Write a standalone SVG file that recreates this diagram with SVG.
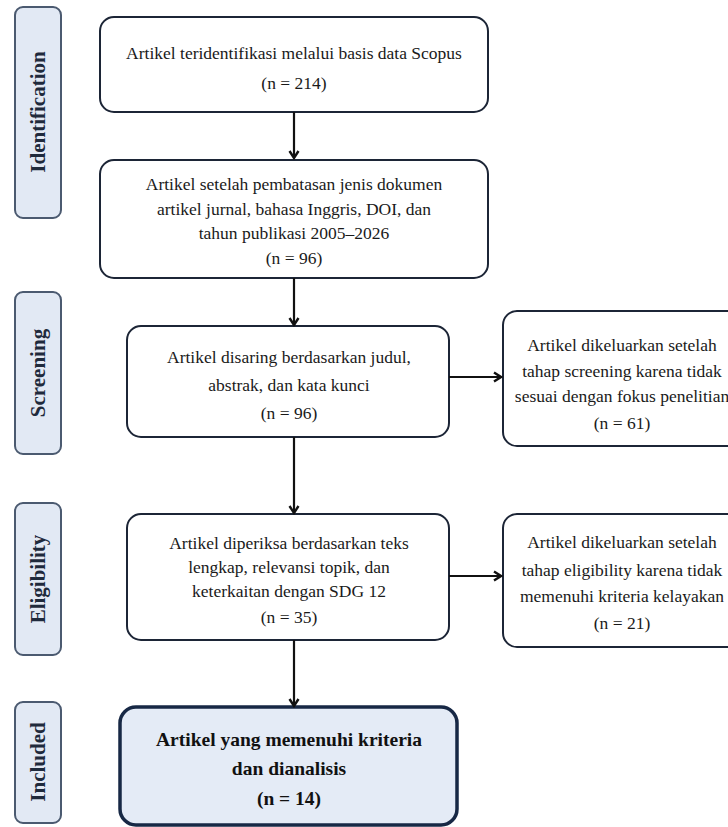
<svg xmlns="http://www.w3.org/2000/svg" width="728" height="827" viewBox="0 0 728 827">
<defs>
<style>
.lbl rect{fill:#e2e9f4;stroke:#4b5a70;stroke-width:2}
.lbl text{font-family:"Liberation Serif","Times New Roman",serif;font-weight:bold;font-size:21px;fill:#1f2a3c;text-anchor:middle}
.box rect{fill:#ffffff;stroke:#1c2536;stroke-width:2}
.box text{font-family:"Liberation Serif","Times New Roman",serif;font-size:17.5px;fill:#1a1a1a;text-anchor:middle}
.fin rect{fill:#e4ebf6;stroke:#172845;stroke-width:3.5}
.fin text{font-family:"Liberation Serif","Times New Roman",serif;font-weight:bold;font-size:19.5px;fill:#111;text-anchor:middle}
.conn line{stroke:#111;stroke-width:2.2;fill:none;marker-end:url(#ah)}
</style>
<marker id="ah" markerWidth="12" markerHeight="12" viewBox="0 0 12 12" refX="10" refY="6" orient="auto" markerUnits="userSpaceOnUse">
<path d="M3,1.5 L10,6 L3,10.5" fill="none" stroke="#111" stroke-width="2.4" stroke-linejoin="miter"/>
</marker>
</defs>
<rect x="0" y="0" width="728" height="827" fill="#ffffff"/>

<g id="label-identification" class="lbl">
<rect x="15" y="7" width="46" height="211" rx="8"/>
<text transform="translate(45,112) rotate(-90)">Identification</text>
</g>
<g id="label-screening" class="lbl">
<rect x="15" y="292" width="46" height="162" rx="8"/>
<text transform="translate(45,373) rotate(-90)">Screening</text>
</g>
<g id="label-eligibility" class="lbl">
<rect x="15" y="503" width="46" height="152" rx="8"/>
<text transform="translate(45,579) rotate(-90)">Eligibility</text>
</g>
<g id="label-included" class="lbl">
<rect x="15" y="702" width="46" height="121" rx="8"/>
<text transform="translate(45,762) rotate(-90)">Included</text>
</g>

<g id="node-identified" class="box">
<rect x="100" y="17" width="388" height="95" rx="14"/>
<text x="294" y="59">Artikel teridentifikasi melalui basis data Scopus</text>
<text x="294" y="89">(n = 214)</text>
</g>
<g id="node-filtered" class="box">
<rect x="100" y="160" width="388" height="118" rx="14"/>
<text x="294" y="190">Artikel setelah pembatasan jenis dokumen</text>
<text x="294" y="215">artikel jurnal, bahasa Inggris, DOI, dan</text>
<text x="294" y="239">tahun publikasi 2005–2026</text>
<text x="294" y="264">(n = 96)</text>
</g>
<g id="node-screened" class="box">
<rect x="127" y="326" width="322" height="111" rx="14"/>
<text x="289" y="363">Artikel disaring berdasarkan judul,</text>
<text x="289" y="391">abstrak, dan kata kunci</text>
<text x="289" y="419">(n = 96)</text>
</g>
<g id="node-excluded-screening" class="box">
<rect x="503" y="311" width="238" height="135" rx="14"/>
<text x="622" y="351">Artikel dikeluarkan setelah</text>
<text x="622" y="377">tahap screening karena tidak</text>
<text x="622" y="402">sesuai dengan fokus penelitian</text>
<text x="622" y="429">(n = 61)</text>
</g>
<g id="node-eligibility" class="box">
<rect x="127" y="514" width="322" height="126" rx="14"/>
<text x="289" y="549">Artikel diperiksa berdasarkan teks</text>
<text x="289" y="573">lengkap, relevansi topik, dan</text>
<text x="289" y="597">keterkaitan dengan SDG 12</text>
<text x="289" y="623">(n = 35)</text>
</g>
<g id="node-excluded-eligibility" class="box">
<rect x="503" y="514" width="238" height="133" rx="14"/>
<text x="622" y="548">Artikel dikeluarkan setelah</text>
<text x="622" y="576">tahap eligibility karena tidak</text>
<text x="622" y="602">memenuhi kriteria kelayakan</text>
<text x="622" y="629">(n = 21)</text>
</g>
<g id="node-included" class="fin">
<rect x="120" y="707" width="337" height="118" rx="16"/>
<text x="289" y="746">Artikel yang memenuhi kriteria</text>
<text x="289" y="775">dan dianalisis</text>
<text x="289" y="805">(n = 14)</text>
</g>

<g id="connectors" class="conn">
<line x1="294" y1="112" x2="294" y2="158"/>
<line x1="294" y1="278" x2="294" y2="325"/>
<line x1="294" y1="437" x2="294" y2="513"/>
<line x1="294" y1="640" x2="294" y2="706"/>
<line x1="449" y1="377" x2="501" y2="377"/>
<line x1="449" y1="576" x2="501" y2="576"/>
</g>
</svg>
